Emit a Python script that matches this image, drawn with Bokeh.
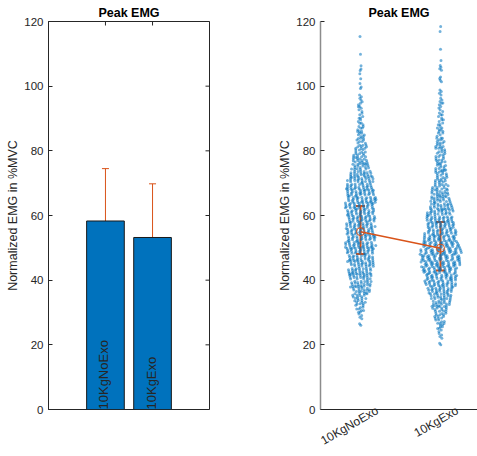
import math
import numpy as np
from bokeh.plotting import figure
from bokeh.layouts import row
from bokeh.models import ColumnDataSource, Whisker, TeeHead, FixedTicker, Range1d
from bokeh.core.properties import value
from bokeh.embed import file_html
from bokeh.resources import INLINE

# ---------------- data ----------------
groups = ["10KgNoExo", "10KgExo"]
group_x = [1, 2]
y_ticks = [0, 20, 40, 60, 80, 100, 120]

bar_means = [58.3, 53.2]
bar_err_low = [41.9, 36.6]
bar_err_high = [74.5, 69.8]

point_means = [55.0, 49.9]
point_err_low = [48.1, 43.0]
point_err_high = [62.9, 58.0]

# distribution of the individual points, read as counts per 2 %MVC bin
bin_width = 2.0
noexo_first_bin = 26.0
noexo_counts = [2, 4, 8, 11, 15, 18, 21, 23, 24, 25,
                26, 28, 30, 29, 28, 28, 28, 28, 30, 30,
                29, 27, 25, 22, 18, 15, 13, 12, 9, 8,
                6, 5, 5, 5, 4, 3, 2, 1, 2, 2,
                1, 1, 0, 0, 1]
exo_first_bin = 20.0
exo_counts = [2, 4, 6, 9, 12, 15, 18, 22, 26, 30,
              32, 35, 38, 40, 40, 38, 33, 30, 28, 28,
              25, 23, 20, 18, 15, 13, 12, 11, 10, 10,
              10, 9, 6, 6, 6, 5, 4, 5, 3, 2,
              2, 2, 3, 2, 0, 1, 0, 0, 1, 1]

# ---------------- style ----------------
FONT = "Liberation Sans"
TXT = "#262626"
BLUE = "#0072BD"
ORANGE = "#D95319"
TOP = 21
BOTTOM = 46
HEIGHT = 456
LABEL_SHIFT = 0.21   # rotated category labels sit a little right of their tick


def spread(center, first_bin, counts, width_per_count):
    """Deterministic plotSpread-like layout: spread width follows local density."""
    counts = np.asarray(counts, dtype=float)
    centers = first_bin + bin_width * (np.arange(len(counts)) + 0.5)
    xs, ys = [], []
    k = 0
    for i, n in enumerate(counts.astype(int)):
        for _ in range(n):
            k += 1
            u = (0.5 + 0.7548776662 * k) % 1.0
            v = (0.5 + 0.5698402910 * k) % 1.0
            y = first_bin + bin_width * (i + u)
            hw = np.interp(y, centers, counts) * width_per_count
            xs.append(center + hw * (2 * v - 1))
            ys.append(y)
    return xs, ys


def style_yaxis(ax):
    ax.ticker = FixedTicker(ticks=y_ticks)
    ax.axis_label = "Normalized EMG in %MVC"
    ax.major_tick_in = 4
    ax.major_tick_out = 0
    ax.minor_tick_line_color = None
    ax.axis_line_color = TXT
    ax.major_tick_line_color = TXT
    ax.major_label_text_font = FONT
    ax.major_label_text_font_size = "11.5px"
    ax.major_label_text_color = TXT
    ax.axis_label_text_font = FONT
    ax.axis_label_text_font_size = "12.5px"
    ax.axis_label_text_font_style = "normal"
    ax.axis_label_text_color = TXT
    ax.major_label_standoff = 5
    ax.axis_label_standoff = 1


def style_fig(p):
    p.title.text = "Peak EMG"
    p.title.align = "center"
    p.title.text_font = FONT
    p.title.text_font_size = "12.5px"
    p.title.text_font_style = "bold"
    p.title.text_color = "#000000"
    p.title.standoff = 3
    p.title.offset = 0
    p.xgrid.grid_line_color = None
    p.ygrid.grid_line_color = None
    p.background_fill_color = "white"
    p.border_fill_color = "white"


# ---------------- left: bar chart ----------------
x1_range = Range1d(-0.21, 3.21)
y_range1 = Range1d(0, 120)
p1 = figure(width=240, height=HEIGHT, x_range=x1_range, y_range=y_range1,
            output_backend="svg", toolbar_location=None,
            min_border_left=48, min_border_right=31, min_border_top=TOP, min_border_bottom=BOTTOM)
style_fig(p1)
p1.outline_line_color = TXT
p1.outline_line_alpha = 1.0
p1.xaxis.visible = False
style_yaxis(p1.yaxis[0])

p1.vbar(x=group_x, top=bar_means, width=0.8, fill_color=BLUE, line_color="#1a1a1a", line_width=1)

bar_src = ColumnDataSource(dict(x=group_x, lo=bar_err_low, hi=bar_err_high))
p1.add_layout(Whisker(source=bar_src, base="x", lower="lo", upper="hi",
                      line_color=ORANGE, line_width=1,
                      upper_head=TeeHead(size=7, line_color=ORANGE, line_width=1),
                      lower_head=TeeHead(size=7, line_color=ORANGE, line_width=1)))

p1.text(x=group_x, y=[0] * len(groups), text=groups, angle=math.pi / 2,
        text_align="left", text_baseline="middle", x_offset=-1.5,
        text_font=value(FONT), text_font_size="13px", text_color=TXT)

# inner tick marks on the right edge and on the top edge (half clipped by the frame)
p1.scatter(x=[x1_range.end] * len(y_ticks), y=y_ticks, marker="dash", size=8,
           line_color=TXT, line_width=1)
p1.scatter(x=group_x, y=[y_range1.end] * len(group_x), marker="dash", angle=math.pi / 2,
           size=8, line_color=TXT, line_width=1)

# ---------------- right: spread of points ----------------
p2 = figure(width=237, height=HEIGHT, x_range=Range1d(0.5, 2.4625), y_range=Range1d(0, 120),
            output_backend="svg", toolbar_location=None,
            min_border_left=80, min_border_right=0, min_border_top=TOP, min_border_bottom=BOTTOM)
style_fig(p2)
p2.outline_line_color = None

style_yaxis(p2.yaxis[0])
p2.yaxis.axis_line_color = "#8c8c8c"
p2.yaxis.axis_line_width = 1.5

label_ticks = [round(x + LABEL_SHIFT, 4) for x in group_x]
p2.xaxis.ticker = FixedTicker(ticks=label_ticks)
p2.xaxis.major_label_overrides = {t: g for t, g in zip(label_ticks, groups)}
p2.xaxis.major_label_orientation = math.pi / 6
p2.xaxis.axis_line_color = TXT
p2.xaxis.minor_tick_line_color = None
p2.xaxis.major_tick_line_color = None
p2.xaxis.major_tick_in = 0
p2.xaxis.major_tick_out = 0
p2.xaxis.major_label_standoff = 0
p2.xaxis.major_label_text_font = FONT
p2.xaxis.major_label_text_font_size = "12px"
p2.xaxis.major_label_text_color = TXT

xs1, ys1 = spread(group_x[0], noexo_first_bin, noexo_counts, 0.0065)
xs2, ys2 = spread(group_x[1], exo_first_bin, exo_counts, 0.0065)
p2.scatter(x=xs1 + xs2, y=ys1 + ys2, size=3, fill_color=BLUE, fill_alpha=0.55, line_color=None)

p2.line(x=group_x, y=point_means, line_color=ORANGE, line_width=1.5)
pt_src = ColumnDataSource(dict(x=group_x, lo=point_err_low, hi=point_err_high))
p2.add_layout(Whisker(source=pt_src, base="x", lower="lo", upper="hi",
                      line_color=ORANGE, line_width=2,
                      upper_head=TeeHead(size=9, line_color=ORANGE, line_width=2),
                      lower_head=TeeHead(size=9, line_color=ORANGE, line_width=2)))
p2.scatter(x=group_x, y=point_means, marker="circle", size=8, fill_color=None,
           line_color=ORANGE, line_width=1)

layout = row(p1, p2)
open("out.html", "w").write(file_html(layout, INLINE))
